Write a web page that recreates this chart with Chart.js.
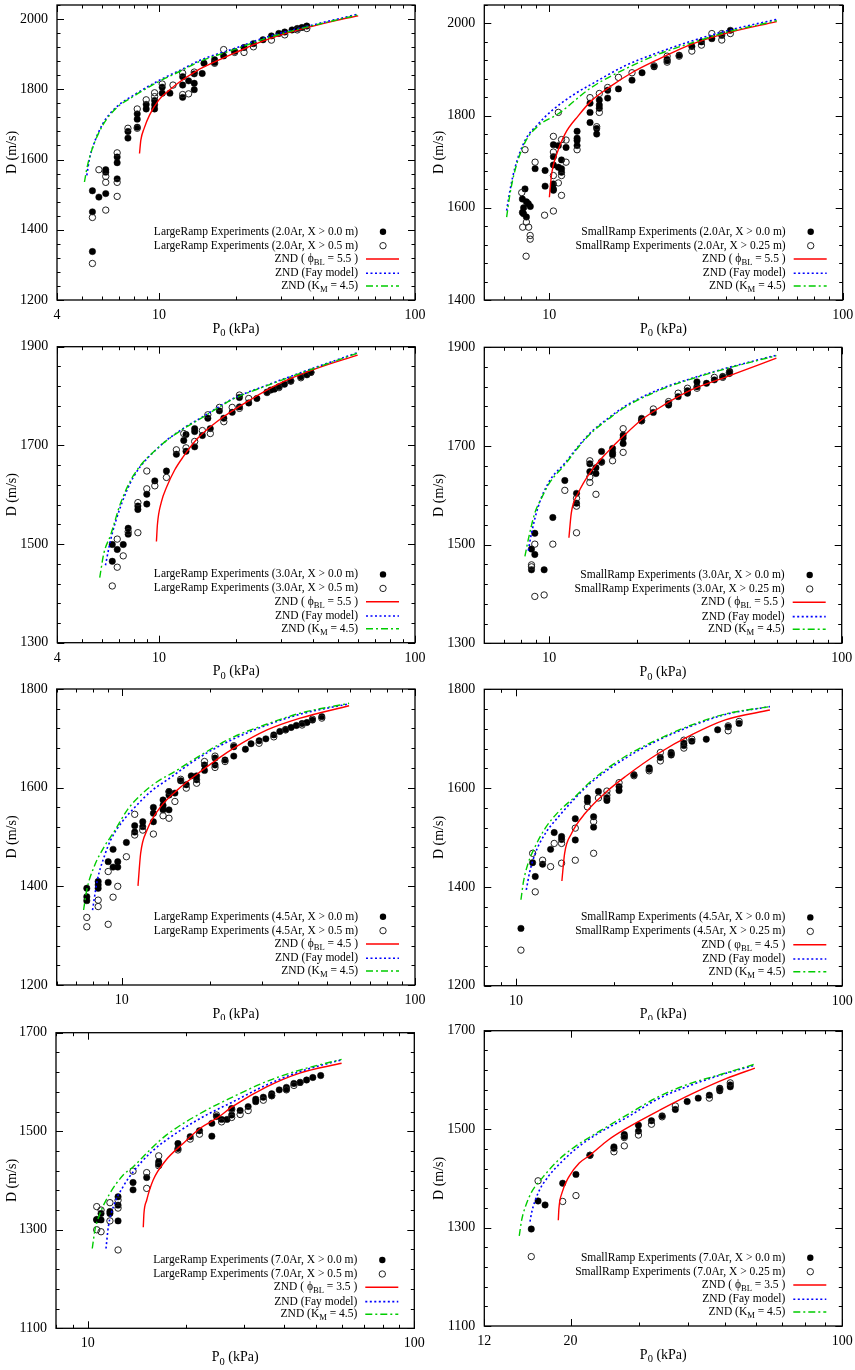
<!DOCTYPE html>
<html>
<head>
<meta charset="utf-8">
<script src="https://cdn.jsdelivr.net/npm/chart.js@4.4.1/dist/chart.umd.min.js"></script>
<style>
  body { margin: 0; background: #fff; width: 855px; height: 1370px; position: relative; overflow: hidden; }
  .panel { position: absolute; }
  canvas { display: block; }
</style>
</head>
<body>
<div class="panel" style="left:0;top:0"><canvas id="c1" width="427" height="340"></canvas></div>
<div class="panel" style="left:427px;top:0"><canvas id="c2" width="428" height="340"></canvas></div>
<div class="panel" style="left:0;top:340px"><canvas id="c3" width="427" height="340"></canvas></div>
<div class="panel" style="left:427px;top:340px"><canvas id="c4" width="428" height="340"></canvas></div>
<div class="panel" style="left:0;top:680px"><canvas id="c5" width="427" height="340"></canvas></div>
<div class="panel" style="left:427px;top:680px"><canvas id="c6" width="428" height="340"></canvas></div>
<div class="panel" style="left:0;top:1020px"><canvas id="c7" width="427" height="350"></canvas></div>
<div class="panel" style="left:427px;top:1020px"><canvas id="c8" width="428" height="350"></canvas></div>
<script>
// ---- data: [P0 (kPa), D (m/s)] ----
// 2.0Ar LargeRamp
const p1Full = [[5.5,1511],[5.5,1451],[5.5,1338],[5.83,1493],[6.2,1571],[6.2,1564],[6.2,1503],[6.87,1607],[6.87,1591],[6.87,1545],[7.57,1680],[7.57,1661],[8.23,1730],[8.23,1715],[8.23,1692],[8.92,1757],[8.92,1744],[9.62,1768],[9.62,1756],[9.62,1744],[10.3,1806],[10.3,1789],[11.04,1789],[12.38,1836],[12.38,1812],[12.38,1777],[13.06,1824],[13.74,1844],[13.74,1817],[13.74,1799],[14.76,1845],[15.0,1874],[16.5,1884],[16.5,1876],[17.9,1895],[19.76,1908],[21.5,1919],[23.4,1930],[25.5,1941],[27.5,1952],[29.4,1959],[31,1963],[33.1,1969],[34.7,1973],[36.2,1976],[37.8,1980]];
const p1Half = [[5.5,1435],[5.5,1304],[5.83,1571],[6.2,1456],[6.2,1552],[6.2,1535],[6.87,1619],[6.87,1535],[6.87,1495],[7.57,1689],[8.23,1744],[8.23,1689],[8.92,1770],[9.62,1790],[9.62,1779],[10.3,1815],[11.35,1812],[12.38,1846],[12.38,1785],[13.06,1787],[13.74,1849],[16.5,1874],[17.9,1913],[19.76,1905],[21.5,1905],[23.4,1921],[27.5,1940],[31,1955],[34.7,1969],[37.8,1973]];
const p1Phi = [[8.4,1617],[8.5,1655],[8.75,1688],[9.2,1727],[10,1770],[11,1798],[12,1820],[14,1852],[17,1882],[20,1905],[25,1935],[30,1955],[40,1980],[50,1997],[60,2009]];
const p1Fay = [[5.23,1555],[5.35,1600],[5.52,1636],[6.04,1702],[6.81,1749],[7.92,1782],[10,1825],[12.4,1858],[14.4,1882],[19.5,1915],[26.2,1948],[35.5,1974],[60,2014]];
const p1Km = [[5.12,1536],[5.25,1580],[5.5,1632],[6.04,1698],[6.81,1746],[7.92,1779],[10,1822],[12.4,1855],[14.4,1879],[19.5,1912],[26.2,1945],[35.5,1972],[60,2012]];

// 2.0Ar SmallRamp
const p2Full = [[8.09,1619],[8.09,1590],[8.26,1641],[8.17,1600],[8.35,1613],[8.35,1580],[8.48,1609],[8.61,1603],[8.17,1587],[8.94,1685],[9.67,1681],[9.67,1647],[10.32,1737],[10.32,1711],[10.32,1693],[10.32,1652],[10.32,1641],[10.32,1638],[10.73,1735],[10.73,1688],[11.0,1704],[11.0,1685],[11.0,1677],[11.4,1731],[12.43,1766],[12.43,1751],[12.43,1746],[12.43,1735],[13.76,1827],[13.76,1807],[13.76,1785],[14.5,1772],[14.5,1760],[14.8,1834],[14.8,1823],[14.8,1816],[15.8,1855],[15.8,1838],[17.2,1858],[19.13,1877],[20.7,1893],[22.75,1906],[25.2,1922],[25.2,1919],[27.7,1931],[30.6,1950],[33.0,1960],[35.8,1967],[38.7,1974],[41.4,1985]];
const p2Half = [[8.05,1633],[8.11,1558],[8.26,1726],[8.33,1495],[8.35,1569],[8.5,1558],[8.6,1540],[8.6,1532],[8.94,1699],[9.63,1584],[10.32,1755],[10.32,1721],[10.32,1670],[10.32,1593],[10.73,1807],[10.73,1654],[11.0,1748],[11.0,1670],[11.0,1627],[11.4,1699],[11.4,1747],[12.43,1726],[13.76,1839],[14.5,1776],[14.8,1848],[14.8,1807],[15.8,1861],[17.2,1883],[19.13,1893],[22.75,1908],[25.2,1929],[25.2,1916],[27.7,1929],[30.6,1940],[33.0,1953],[35.8,1978],[38.7,1978],[38.7,1964],[41.4,1978]];
const p2Phi = [[10.0,1623],[10.18,1674],[10.6,1717],[11.3,1760],[12.56,1800],[13.9,1832],[16.3,1865],[19.1,1893],[23.5,1922],[30.6,1955],[39.7,1978],[59.6,2004]];
const p2Fay = [[7.15,1594],[7.34,1638],[7.64,1688],[8.26,1746],[9.17,1782],[10.2,1811],[12.2,1847],[13.9,1868],[18.1,1908],[23.5,1937],[30.6,1962],[39.7,1983],[59.6,2009]];
const p2Km = [[7.15,1580],[7.34,1630],[7.64,1682],[8.26,1742],[9.17,1778],[10.73,1804],[13.9,1861],[18.1,1901],[23.5,1933],[30.6,1958],[39.7,1980],[59.6,2006]];

// 3.0Ar LargeRamp
const p3Full = [[6.56,1465],[6.56,1499],[6.86,1489],[7.24,1499],[7.57,1532],[7.57,1520],[8.26,1577],[8.26,1570],[8.95,1601],[8.95,1581],[9.62,1628],[10.68,1648],[11.68,1682],[12.48,1710],[12.74,1722],[12.74,1688],[13.77,1734],[13.77,1728],[13.77,1697],[14.76,1720],[15.85,1734],[15.5,1755],[17.2,1770],[17.9,1755],[19.3,1767],[20.6,1778],[20.6,1797],[22.4,1786],[24.1,1795],[26.4,1808],[27.3,1812],[28.2,1814],[29.4,1819],[30.9,1824],[32.7,1830],[35.8,1839],[37.8,1843],[39.2,1848]];
const p3Half = [[6.56,1415],[6.86,1453],[6.86,1510],[7.24,1476],[7.57,1525],[8.26,1523],[8.26,1584],[8.95,1648],[8.95,1612],[9.62,1618],[10.68,1635],[11.68,1691],[12.48,1724],[12.74,1695],[13.77,1708],[14.76,1730],[15.5,1762],[15.85,1724],[17.2,1777],[17.9,1748],[19.3,1777],[20.6,1775],[20.6,1802],[22.4,1795],[26.4,1807],[29.4,1817],[32.7,1831],[35.8,1837],[39.2,1848]];
const p3Phi = [[9.76,1505],[9.85,1540],[10.2,1585],[10.71,1616],[11.5,1650],[12.43,1677],[14,1712],[16.8,1748],[22.65,1792],[30.6,1829],[41.3,1856],[59.7,1883]];
const p3Fay = [[6.17,1457],[6.46,1508],[7.07,1576],[7.96,1637],[10,1697],[12.48,1735],[14.5,1755],[19.5,1795],[26.4,1822],[35.6,1847],[59.7,1888]];
const p3Km = [[5.86,1432],[6.08,1481],[6.46,1518],[7.07,1583],[7.96,1640],[10,1697],[12.48,1734],[14.5,1754],[19.5,1794],[26.4,1821],[35.6,1846],[59.7,1887]];

// 3.0Ar SmallRamp
const p4Full = [[8.7,1491],[8.7,1449],[8.93,1523],[8.93,1480],[9.61,1449],[10.29,1555],[11.31,1630],[12.4,1604],[12.4,1584],[13.77,1664],[13.77,1648],[14.45,1656],[14.45,1644],[15.1,1689],[15.1,1667],[16.47,1695],[16.47,1687],[16.47,1682],[17.9,1722],[17.9,1716],[17.9,1705],[20.7,1756],[20.7,1751],[22.7,1768],[25.6,1783],[25.6,1786],[27.6,1800],[29.7,1807],[29.7,1812],[32,1820],[32,1830],[34.5,1827],[36.7,1834],[39.2,1841],[41.3,1847],[41.4,1851]];
const p4Half = [[8.7,1459],[8.7,1455],[8.93,1501],[8.93,1395],[9.61,1398],[10.29,1501],[11.31,1610],[12.4,1524],[12.4,1594],[12.4,1578],[13.77,1670],[13.77,1637],[13.77,1626],[14.45,1602],[15.1,1668],[16.47,1670],[17.9,1735],[17.9,1687],[20.7,1751],[22.7,1775],[25.6,1790],[27.6,1807],[29.7,1817],[32,1817],[36.7,1839],[39.2,1839],[41.3,1849]];
const p4Phi = [[11.68,1514],[11.9,1564],[12.56,1604],[13.96,1650],[15.9,1689],[18.1,1722],[20.7,1753],[23.6,1776],[30.7,1814],[39.9,1839],[59.8,1878]];
const p4Fay = [[8.48,1488],[8.7,1523],[9.17,1577],[10,1628],[11.31,1665],[12.56,1699],[13.96,1729],[15.9,1756],[18.1,1780],[23.6,1814],[30.7,1837],[39.9,1857],[59.8,1884]];
const p4Km = [[8.26,1476],[8.48,1510],[8.93,1564],[9.41,1594],[10,1624],[11.31,1662],[12.56,1697],[13.96,1727],[15.9,1754],[18.1,1778],[23.6,1812],[30.7,1836],[39.9,1856],[59.8,1883]];

// 4.5Ar LargeRamp
const p5Full = [[7.6,1396],[7.6,1379],[7.6,1371],[8.31,1410],[8.31,1403],[8.31,1396],[8.99,1450],[8.99,1408],[9.34,1475],[9.34,1439],[9.69,1450],[9.69,1439],[10.37,1489],[11.07,1523],[11.07,1510],[11.79,1531],[11.79,1521],[12.82,1560],[12.82,1548],[12.82,1531],[13.83,1575],[13.83,1564],[13.83,1555],[14.49,1592],[14.49,1585],[14.49,1555],[15.18,1589],[15.88,1614],[16.6,1606],[17.26,1624],[18,1624],[18,1616],[19.15,1646],[19.15,1635],[20.8,1660],[20.8,1646],[22.5,1656],[24.1,1683],[24.1,1664],[26.4,1678],[27.6,1689],[29.4,1695],[31,1699],[33,1707],[34.6,1714],[36.2,1718],[37.8,1722],[39.4,1726],[41.2,1730],[42.8,1732],[44.7,1737],[48.1,1744]];
const p5Half = [[7.6,1337],[7.6,1318],[8.31,1372],[8.31,1359],[8.99,1430],[8.99,1323],[9.34,1378],[9.69,1400],[10.37,1460],[11.07,1546],[11.07,1504],[11.79,1514],[12.82,1506],[13.83,1543],[14.49,1538],[14.49,1592],[15.18,1572],[15.88,1617],[16.6,1599],[18,1609],[19.15,1653],[20.8,1664],[20.8,1641],[22.5,1653],[24.1,1685],[29.4,1690],[33,1703],[36.2,1717],[41.2,1727],[44.7,1739],[48.1,1741]];
const p5Phi = [[11.36,1401],[11.6,1467],[12.2,1514],[13.6,1562],[15.45,1595],[18.6,1633],[24.1,1680],[31.3,1717],[40.6,1741],[59.6,1766]];
const p5Fay = [[7.95,1352],[8.26,1413],[8.71,1460],[9.17,1494],[9.92,1527],[10.99,1558],[12.55,1592],[14.3,1616],[18.6,1663],[24.1,1699],[31.3,1727],[40.6,1749],[59.6,1770]];
const p5Km = [[7.41,1352],[7.6,1393],[8.05,1440],[8.71,1480],[9.42,1511],[10.45,1555],[11.6,1585],[13.2,1612],[15.1,1632],[18.6,1666],[24.1,1703],[31.3,1729],[40.6,1751],[59.6,1771]];

// 4.5Ar SmallRamp
const p6Full = [[10.36,1316],[11.25,1449],[11.46,1421],[12.07,1446],[12.77,1476],[13.1,1510],[13.8,1502],[13.8,1496],[15.2,1538],[15.2,1495],[16.56,1580],[16.56,1573],[17.3,1542],[17.3,1521],[17.9,1593],[19.0,1580],[19.0,1575],[20.7,1603],[20.7,1595],[23.0,1627],[25.6,1641],[25.6,1638],[27.7,1662],[29.9,1672],[29.9,1667],[32.7,1691],[32.7,1686],[34.6,1695],[38.3,1699],[41.5,1718],[44.7,1724],[48.3,1731]];
const p6Half = [[10.36,1272],[11.25,1468],[11.46,1390],[12.07,1454],[12.77,1441],[13.1,1488],[13.8,1448],[13.8,1488],[15.2,1454],[15.2,1519],[16.56,1562],[17.3,1468],[17.3,1532],[17.9,1580],[19.0,1594],[19.0,1586],[20.7,1611],[23.0,1625],[25.6,1635],[27.7,1655],[27.7,1672],[29.9,1669],[32.7,1697],[32.7,1681],[34.6,1699],[44.7,1716],[44.7,1726],[48.3,1735]];
const p6Phi = [[13.83,1412],[14.1,1468],[14.8,1508],[16.3,1549],[19.2,1596],[21.6,1623],[27.3,1670],[34.6,1708],[43.8,1738],[60,1758]];
const p6Fay = [[10.76,1394],[11,1428],[11.46,1468],[12.3,1508],[13.5,1542],[15.2,1580],[16.9,1610],[21.6,1660],[27.3,1697],[34.6,1726],[43.8,1749],[60,1765]];
const p6Km = [[10.36,1374],[10.55,1411],[10.9,1448],[11.46,1482],[12.3,1519],[13.5,1552],[15.2,1583],[16.9,1613],[21.6,1664],[27.3,1699],[34.6,1728],[43.8,1750],[60,1765]];

// 7.0Ar LargeRamp
const p7Full = [[10.66,1321],[10.66,1320],[10.99,1333],[10.99,1320],[11.7,1337],[11.7,1333],[12.39,1367],[12.39,1350],[12.39,1318],[13.77,1396],[13.77,1381],[15.16,1406],[16.5,1438],[16.5,1433],[18.9,1475],[18.9,1465],[20.6,1489],[22.0,1501],[24.0,1516],[24.0,1490],[24.8,1530],[25.7,1524],[26.7,1524],[27.6,1546],[27.6,1533],[29.3,1542],[31.0,1550],[32.7,1565],[32.7,1560],[34.5,1569],[36.6,1576],[36.6,1572],[38.6,1584],[40.6,1585],[40.6,1589],[42.8,1597],[44.7,1599],[46.8,1604],[48.9,1609],[51.7,1613]];
const p7Half = [[10.66,1347],[10.66,1300],[10.99,1340],[10.99,1296],[11.7,1355],[11.7,1318],[12.39,1360],[12.39,1344],[12.39,1259],[13.77,1419],[15.16,1416],[15.16,1384],[16.5,1450],[16.5,1430],[18.9,1462],[20.6,1484],[22.0,1494],[24.8,1533],[25.7,1519],[27.6,1544],[27.6,1528],[29.3,1534],[31.0,1542],[34.5,1563],[36.6,1572],[40.6,1584],[42.8,1593],[44.7,1599]];
const p7Phi = [[14.8,1305],[14.87,1333],[15.16,1360],[15.87,1401],[17.4,1442],[19.6,1475],[22.1,1506],[24.8,1526],[27.9,1551],[35.3,1590],[44.6,1618],[59.9,1638]];
const p7Fay = [[11.38,1262],[11.57,1306],[11.99,1347],[12.85,1388],[13.8,1418],[15.5,1455],[17.4,1482],[22.1,1526],[27.9,1560],[35.3,1594],[44.6,1621],[59.9,1645]];
const p7Km = [[10.33,1262],[10.53,1300],[10.91,1333],[11.7,1374],[12.85,1411],[13.8,1428],[15.5,1462],[17.4,1492],[22.1,1536],[27.9,1570],[35.3,1601],[44.6,1624],[59.9,1646]];

// 7.0Ar SmallRamp
const p8Full = [[15.85,1297],[16.5,1354],[17.2,1346],[19.09,1390],[20.65,1408],[22.44,1447],[25.86,1464],[25.86,1461],[27.5,1489],[27.5,1485],[29.9,1508],[29.9,1496],[32.3,1517],[34.4,1527],[37.2,1540],[39.9,1556],[42.6,1563],[45.5,1569],[48.4,1583],[48.4,1578],[51.5,1590],[51.5,1586]];
const p8Half = [[15.85,1241],[16.5,1395],[19.09,1353],[20.65,1365],[22.44,1447],[25.86,1454],[27.5,1483],[27.5,1466],[29.9,1488],[32.3,1510],[34.4,1525],[37.2,1547],[45.5,1563],[48.4,1581],[51.5,1594]];
const p8Phi = [[18.6,1315],[18.67,1339],[19.0,1370],[19.8,1403],[21.06,1431],[22.44,1447],[25,1478],[27.9,1502],[34,1539],[41.4,1573],[50.4,1603],[59.6,1624]];
const p8Fay = [[15.73,1312],[15.9,1332],[16.5,1370],[17.5,1403],[19.0,1434],[20.5,1458],[22.86,1485],[28.1,1525],[33.5,1561],[40.4,1588],[49.6,1612],[59.6,1630]];
const p8Km = [[14.76,1283],[14.97,1315],[15.3,1342],[15.9,1373],[17.0,1403],[18.6,1437],[20.5,1464],[22.86,1488],[28.1,1530],[33.5,1565],[40.4,1592],[49.6,1613],[59.6,1632]];

// ---- axis ticks ----
const xTicksFrom4 = [4,5,6,7,8,9,10,20,30,40,50,60,70,80,90,100];
const xTicksFrom6 = [6,7,8,9,10,20,30,40,50,60,70,80,90,100];
const xTicksFrom8 = [8,9,10,20,30,40,50,60,70,80,90,100];
const xTicksFrom12 = [12,20,30,40,50,60,70,80,90,100];
const xLabels4 = [4,10,100];
const xLabels10 = [10,100];
const xLabels12 = [12,20,100];

const FONT = '"Liberation Serif", "Times New Roman", serif';

function pts(arr) {
  return arr.map(p => ({ x: p[0], y: p[1] }));
}

// text with subscripts: parts = [[text, isSub], ...]
function drawRich(ctx, parts, x, y, size, align) {
  let w = 0;
  parts.forEach(p => {
    ctx.font = (p[1] ? size * 0.75 : size) + 'px ' + FONT;
    w += ctx.measureText(p[0]).width;
  });
  let cx = align === 'right' ? x - w : align === 'center' ? x - w / 2 : x;
  parts.forEach(p => {
    ctx.font = (p[1] ? size * 0.75 : size) + 'px ' + FONT;
    ctx.fillText(p[0], cx, y + (p[1] ? size * 0.32 : 0));
    cx += ctx.measureText(p[0]).width;
  });
}

// gnuplot-like box, inner ticks, key and axis titles
const framePlugin = {
  id: 'frame',
  afterDatasetsDraw(chart) {
    const { ctx, chartArea: a, scales } = chart;
    const cfg = chart.options.plugins.frame;
    const xs = scales.x, ys = scales.y;
    ctx.save();
    ctx.strokeStyle = '#000';
    ctx.lineWidth = 1;
    ctx.setLineDash([]);
    ctx.beginPath();
    xs.ticks.forEach(t => {
      const px = Math.round(xs.getPixelForValue(t.value)) + 0.5;
      const len = t.label ? 7 : 3.5;
      ctx.moveTo(px, a.bottom); ctx.lineTo(px, a.bottom - len);
      ctx.moveTo(px, a.top); ctx.lineTo(px, a.top + len);
    });
    ys.ticks.forEach(t => {
      const py = Math.round(ys.getPixelForValue(t.value)) + 0.5;
      const len = t.label ? 7 : 3.5;
      ctx.moveTo(a.left, py); ctx.lineTo(a.left + len, py);
      ctx.moveTo(a.right, py); ctx.lineTo(a.right - len, py);
    });
    ctx.stroke();
    ctx.lineWidth = 1.3;
    ctx.strokeRect(a.left, a.top, a.right - a.left, a.bottom - a.top);

    // key
    const rowOffsets = [68.3, 54.3, 41, 26.7, 14];
    ctx.fillStyle = '#000';
    ctx.textBaseline = 'middle';
    cfg.legend.forEach((parts, i) => {
      const ry = a.bottom - rowOffsets[i];
      drawRich(ctx, parts, a.right - 57, ry, 11.5, 'right');
      const ds = chart.data.datasets[i];
      if (i < 2) {
        ctx.beginPath();
        ctx.arc(a.right - 32, ry, 3.2, 0, Math.PI * 2);
        if (i === 0) { ctx.fillStyle = '#000'; ctx.fill(); }
        else { ctx.strokeStyle = '#222'; ctx.lineWidth = 1; ctx.stroke(); }
      } else {
        ctx.beginPath();
        ctx.strokeStyle = ds.borderColor;
        ctx.lineWidth = ds.borderWidth;
        ctx.setLineDash(ds.borderDash || []);
        ctx.moveTo(a.right - 49, ry);
        ctx.lineTo(a.right - 16, ry);
        ctx.stroke();
        ctx.setLineDash([]);
      }
    });

    // axis titles
    ctx.fillStyle = '#000';
    ctx.textBaseline = 'middle';
    drawRich(ctx, [['P', false], ['0', true], [' (kPa)', false]], (a.left + a.right) / 2, a.bottom + 29, 14, 'center');
    ctx.translate(12, (a.top + a.bottom) / 2);
    ctx.rotate(-Math.PI / 2);
    drawRich(ctx, [['D (m/s)', false]], 0, 0, 14, 'center');
    ctx.restore();
  }
};

function legendRows(ramp, gas, xHalf, phiSym, phiVal) {
  return [
    [[ramp + ' Experiments (' + gas + ', X > 0.0 m)', false]],
    [[ramp + ' Experiments (' + gas + ', X > ' + xHalf + ' m)', false]],
    [['ZND ( ' + phiSym, false], ['BL', true], [' = ' + phiVal + ' )', false]],
    [['ZND (Fay model)', false]],
    [['ZND (K', false], ['M', true], [' = 4.5)', false]]
  ];
}

function makePanel(id, p) {
  new Chart(document.getElementById(id), {
    type: 'scatter',
    data: {
      datasets: [
        { data: pts(p.full), showLine: false, pointRadius: 3.2, pointBackgroundColor: '#000', pointBorderColor: '#000', pointBorderWidth: 0.5, order: 4 },
        { data: pts(p.half), showLine: false, pointRadius: 3.2, pointBackgroundColor: 'rgba(0,0,0,0)', pointBorderColor: '#222', pointBorderWidth: 1, order: 3 },
        { data: pts(p.phi), showLine: true, pointRadius: 0, borderColor: '#ff0000', borderWidth: 1.4, cubicInterpolationMode: 'monotone', order: 2 },
        { data: pts(p.fay), showLine: true, pointRadius: 0, borderColor: '#0000ff', borderWidth: 1.6, borderDash: [2, 2.5], cubicInterpolationMode: 'monotone', order: 1 },
        { data: pts(p.km), showLine: true, pointRadius: 0, borderColor: '#00cc00', borderWidth: 1.4, borderDash: [7, 3, 2, 3], cubicInterpolationMode: 'monotone', order: 0 }
      ]
    },
    options: {
      responsive: false,
      animation: false,
      events: [],
      layout: { padding: { left: 0, right: p.padR, top: p.padT, bottom: 0 } },
      plugins: {
        legend: { display: false },
        tooltip: { enabled: false },
        frame: { legend: p.legend }
      },
      scales: {
        x: {
          type: 'logarithmic',
          min: p.xMin, max: 100,
          afterBuildTicks: s => { s.ticks = p.xTicks.map(v => ({ value: v })); },
          afterFit: s => { s.height = p.xAxisH; s.paddingLeft = 0; s.paddingRight = 0; s.paddingTop = 0; s.paddingBottom = 0; },
          ticks: {
            autoSkip: false, maxRotation: 0, padding: 7, color: '#000',
            font: { family: FONT, size: 14 },
            callback: v => p.xLabels.includes(v) ? String(v) : ''
          },
          grid: { display: false, drawTicks: false },
          border: { display: false }
        },
        y: {
          type: 'linear',
          min: p.yMin, max: p.yMax,
          afterBuildTicks: s => {
            const t = [];
            for (let v = p.yMin; v <= p.yMax; v += 40) t.push({ value: v });
            s.ticks = t;
          },
          afterFit: s => { s.width = p.yAxisW; s.paddingLeft = 0; s.paddingRight = 0; s.paddingTop = 0; s.paddingBottom = 0; },
          ticks: {
            autoSkip: false, padding: 9, color: '#000',
            font: { family: FONT, size: 14 },
            callback: v => (v - p.yMin) % 200 === 0 ? String(v) : ''
          },
          grid: { display: false, drawTicks: false },
          border: { display: false }
        }
      }
    },
    plugins: [framePlugin]
  });
}

makePanel('c1', { full: p1Full, half: p1Half, phi: p1Phi, fay: p1Fay, km: p1Km,
  xMin: 4, xTicks: xTicksFrom4, xLabels: xLabels4, yMin: 1200, yMax: 2040,
  padT: 4, padR: 12, yAxisW: 57, xAxisH: 40,
  legend: legendRows('LargeRamp', '2.0Ar', '0.5', '\u03D5', '5.5') });
makePanel('c2', { full: p2Full, half: p2Half, phi: p2Phi, fay: p2Fay, km: p2Km,
  xMin: 6, xTicks: xTicksFrom6, xLabels: xLabels10, yMin: 1400, yMax: 2040,
  padT: 4, padR: 12.3, yAxisW: 57.3, xAxisH: 40,
  legend: legendRows('SmallRamp', '2.0Ar', '0.25', '\u03D5', '5.5') });
makePanel('c3', { full: p3Full, half: p3Half, phi: p3Phi, fay: p3Fay, km: p3Km,
  xMin: 4, xTicks: xTicksFrom4, xLabels: xLabels4, yMin: 1300, yMax: 1900,
  padT: 6.7, padR: 12, yAxisW: 57.3, xAxisH: 37.3,
  legend: legendRows('LargeRamp', '3.0Ar', '0.5', '\u03D5', '5.5') });
makePanel('c4', { full: p4Full, half: p4Half, phi: p4Phi, fay: p4Fay, km: p4Km,
  xMin: 6, xTicks: xTicksFrom6, xLabels: xLabels10, yMin: 1300, yMax: 1900,
  padT: 7.3, padR: 13.3, yAxisW: 57.3, xAxisH: 36.7,
  legend: legendRows('SmallRamp', '3.0Ar', '0.25', '\u03D5', '5.5') });
makePanel('c5', { full: p5Full, half: p5Half, phi: p5Phi, fay: p5Fay, km: p5Km,
  xMin: 6, xTicks: xTicksFrom6, xLabels: xLabels10, yMin: 1200, yMax: 1800,
  padT: 9, padR: 12, yAxisW: 56.7, xAxisH: 35,
  legend: legendRows('LargeRamp', '4.5Ar', '0.5', '\u03D5', '4.5') });
makePanel('c6', { full: p6Full, half: p6Half, phi: p6Phi, fay: p6Fay, km: p6Km,
  xMin: 8, xTicks: xTicksFrom8, xLabels: xLabels10, yMin: 1200, yMax: 1800,
  padT: 9.3, padR: 12.7, yAxisW: 57.3, xAxisH: 34.3,
  legend: legendRows('SmallRamp', '4.5Ar', '0.25', '\u03C6', '4.5') });
makePanel('c7', { full: p7Full, half: p7Half, phi: p7Phi, fay: p7Fay, km: p7Km,
  xMin: 8, xTicks: xTicksFrom8, xLabels: xLabels10, yMin: 1100, yMax: 1700,
  padT: 12.7, padR: 12.7, yAxisW: 56, xAxisH: 41.7,
  legend: legendRows('LargeRamp', '7.0Ar', '0.5', '\u03D5', '3.5') });
makePanel('c8', { full: p8Full, half: p8Half, phi: p8Phi, fay: p8Fay, km: p8Km,
  xMin: 12, xTicks: xTicksFrom12, xLabels: xLabels12, yMin: 1100, yMax: 1700,
  padT: 10.7, padR: 12.7, yAxisW: 57.3, xAxisH: 44,
  legend: legendRows('SmallRamp', '7.0Ar', '0.25', '\u03D5', '3.5') });
</script>
</body>
</html>
